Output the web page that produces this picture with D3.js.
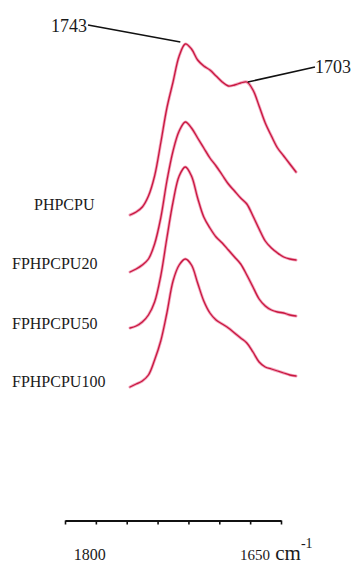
<!DOCTYPE html>
<html>
<head>
<meta charset="utf-8">
<script src="https://cdn.jsdelivr.net/npm/d3@7"></script>
<style>
  html, body { margin: 0; padding: 0; background: #fff; }
  svg { display: block; }
  text { font-family: "Liberation Serif", "Times New Roman", serif; fill: #1a1a1a; }
</style>
</head>
<body>
<svg id="chart" width="352" height="565"></svg>
<script>
// Wavenumbers (cm-1) shared by all spectra
const wavenumbers = [1779, 1775, 1771, 1767, 1763, 1759, 1755, 1751, 1747, 1743,
  1739, 1735, 1731, 1727, 1723, 1719, 1715, 1711, 1707, 1703,
  1699, 1695, 1691, 1687, 1683, 1679, 1675, 1671];

// Sample names, top to bottom
const samples = ["PHPCPU", "FPHPCPU20", "FPHPCPU50", "FPHPCPU100"];

// Intensity (a.u.) of each spectrum, before stacking
const phpcpu = [4.25, 5, 6.25, 9, 14, 22.25, 31, 37.5, 44, 47,
  45.75, 43, 41.5, 40.5, 39, 37.5, 36.5, 36.75, 37.25, 37.5,
  35.5, 31.5, 27.25, 24, 21, 19, 17, 15];
const fphpcpu20 = [4, 4.75, 5.75, 7.25, 11, 17.5, 26.75, 34.25, 39.25, 41.5,
  40, 37.5, 35, 32.5, 30.5, 28.25, 26, 24.25, 22.5, 21,
  18, 14.75, 11.75, 10, 8.75, 7.75, 7.25, 7];
const fphpcpu50 = [4, 4.5, 5.5, 7.25, 10.5, 17, 26.5, 35.5, 42, 44.25,
  42, 36.5, 31.75, 29, 26.75, 25.25, 23.5, 21.75, 20, 17.25,
  14.25, 11.25, 9.5, 8.5, 8, 7.75, 7.25, 7];
const fphpcpu100 = [3.25, 4, 4.75, 6.25, 10, 14.75, 21.75, 29.75, 33.75, 35.25,
  33.75, 29.25, 24.75, 21.75, 20, 19, 18, 16.75, 15.5, 14.25,
  12, 9.5, 8.25, 7.75, 7.25, 6.75, 6.25, 6];

// Vertical stacking offsets (a.u.)
const offsets = [42, 28, 14, 0];

// Marked band positions (cm-1)
const peakLabels = [1743, 1703];

// Axis tick values and labelled ticks (cm-1)
const axisTicks = [1825, 1800, 1775, 1750, 1725, 1700, 1675, 1650];
const axisLabels = [1800, 1650];

const series = [phpcpu, fphpcpu20, fphpcpu50, fphpcpu100];

const svg = d3.select("#chart");

// Spectra scales
const x = d3.scaleLinear().domain([1779, 1671]).range([130, 296]);
const y = d3.scaleLinear().domain([0, 90]).range([400, 40]);

// Wavenumber axis scale
const xAxisScale = d3.scaleLinear().domain([1825, 1650]).range([65, 281]);

const line = d3.line()
  .x(d => x(d[0]))
  .y(d => y(d[1]))
  .curve(d3.curveCatmullRom.alpha(0.5));

const g = svg.append("g");

series.forEach((vals, i) => {
  const pts = wavenumbers.map((w, j) => [w, vals[j] + offsets[i]]);
  // soft pink halo under the trace
  g.append("path")
    .attr("d", line(pts))
    .attr("fill", "none")
    .attr("stroke", "#f2a5bd")
    .attr("stroke-width", 3)
    .attr("stroke-linejoin", "round")
    .attr("stroke-linecap", "round");
  g.append("path")
    .attr("d", line(pts))
    .attr("fill", "none")
    .attr("stroke", "#c8173f")
    .attr("stroke-width", 1.3)
    .attr("stroke-linejoin", "round")
    .attr("stroke-linecap", "round");
});

// Sample labels beside each trace
const labelX = [34, 12, 12, 12];
const labelY = [210, 269, 329, 387];
samples.forEach((name, i) => {
  svg.append("text")
    .attr("x", labelX[i])
    .attr("y", labelY[i])
    .attr("font-size", 16)
    .text(name);
});

// Band annotations on the top spectrum
const topIdx = 0;
const valAt = w => series[topIdx][wavenumbers.indexOf(w)] + offsets[topIdx];

// 1743 band
{
  const px = x(peakLabels[0]) - 5, py = y(valAt(peakLabels[0])) - 2;
  svg.append("line")
    .attr("x1", 88).attr("y1", 25)
    .attr("x2", px).attr("y2", py)
    .attr("stroke", "#111").attr("stroke-width", 1.5);
  svg.append("text")
    .attr("x", 51).attr("y", 32)
    .attr("font-size", 18)
    .text(peakLabels[0]);
}
// 1703 band
{
  const px = x(peakLabels[1]) + 1, py = y(valAt(peakLabels[1]));
  svg.append("line")
    .attr("x1", px).attr("y1", py)
    .attr("x2", 315).attr("y2", 67)
    .attr("stroke", "#111").attr("stroke-width", 1.5);
  svg.append("text")
    .attr("x", 315).attr("y", 73)
    .attr("font-size", 18)
    .text(peakLabels[1]);
}

// Wavenumber axis
const axis = d3.axisBottom(xAxisScale)
  .tickValues(axisTicks)
  .tickSize(4)
  .tickSizeOuter(0)
  .tickFormat("");
const ax = svg.append("g")
  .attr("transform", "translate(0,520.5)")
  .call(axis);
ax.select(".domain").attr("stroke", "#111").attr("stroke-width", 1.8);
ax.selectAll(".tick line").attr("stroke", "#111").attr("stroke-width", 1.6);

svg.append("text")
  .attr("x", xAxisScale(axisLabels[0]) - 6)
  .attr("y", 560)
  .attr("text-anchor", "middle")
  .attr("font-size", 16)
  .text(axisLabels[0]);

const unit = svg.append("text")
  .attr("x", xAxisScale(axisLabels[1]) - 41)
  .attr("y", 560);
unit.append("tspan").attr("font-size", 15).text(axisLabels[1]);
unit.append("tspan").attr("font-size", 21).text(" cm");
unit.append("tspan").attr("font-size", 14).attr("dy", -12).text("-1");
</script>
</body>
</html>
